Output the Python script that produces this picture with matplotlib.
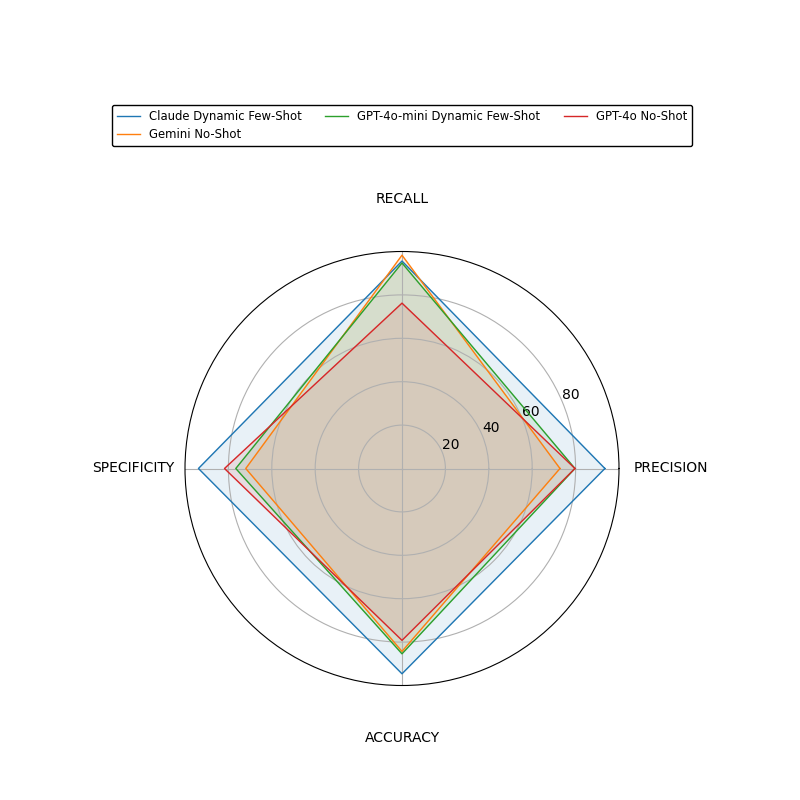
import numpy as np
import matplotlib
matplotlib.use("Agg")
import matplotlib.pyplot as plt

categories = ["PRECISION", "RECALL", "SPECIFICITY", "ACCURACY"]
models = ["Claude Dynamic Few-Shot", "Gemini No-Shot", "GPT-4o-mini Dynamic Few-Shot", "GPT-4o No-Shot"]
claude = [93.5, 95.6, 93.8, 94.6]
gemini = [72.8, 98.3, 72.0, 84.3]
gpt4o_mini = [79.7, 94.7, 76.6, 85.4]
gpt4o = [79.7, 76.2, 81.8, 79.2]
series = [claude, gemini, gpt4o_mini, gpt4o]
colors = ["#1f77b4", "#ff7f0e", "#2ca02c", "#d62728"]
rticks = [20, 40, 60, 80]

fig = plt.figure(figsize=(8, 8), dpi=100)
ax = fig.add_axes([185/800, (800-468.5-217)/800, 434/800, 434/800], polar=True)

angles = np.linspace(0, 2*np.pi, len(categories), endpoint=False).tolist()
angles_closed = angles + angles[:1]

for name, vals, c in zip(models, series, colors):
    v = list(vals) + [vals[0]]
    ax.plot(angles_closed, v, color=c, linewidth=1, label=name)
    ax.fill(angles_closed, v, color=c, alpha=0.1)

ax.set_ylim(0, 100)
ax.set_yticks(rticks)
ax.set_yticklabels([str(t) for t in rticks])
ax.set_xticks(angles)
ax.set_xticklabels(categories)
ax.tick_params(axis='x', pad=27)

fig.legend(loc='upper center', bbox_to_anchor=(402/800, 1-105/800), ncol=3,
           fontsize='small', borderaxespad=0, edgecolor='black', framealpha=1)

fig.savefig("out.png", dpi=100)
